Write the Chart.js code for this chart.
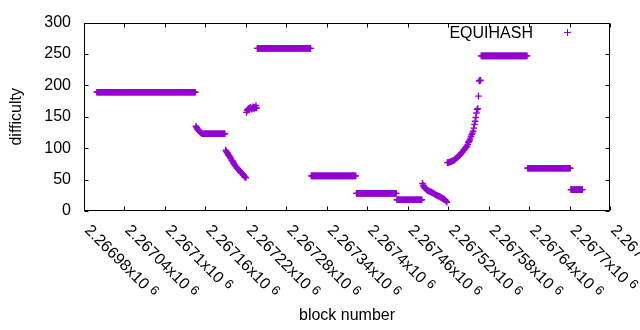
<!DOCTYPE html>
<html>
<head>
<meta charset="utf-8">
<script src="https://cdn.jsdelivr.net/npm/chart.js@4/dist/chart.umd.min.js"></script>
<style>
html,body{margin:0;padding:0;background:#fff;}
canvas{display:block;}
</style>
</head>
<body>
<canvas id="c" width="640" height="330"></canvas>
<script>
// ---- data ----
const seriesName = 'EQUIHASH';
const firstBlock = 2266999; // block number of the first value below
const difficulty = [
// 2266999 - 2267145
189,189,189,189,189,189,189,189,189,189,
189,189,189,189,189,189,189,189,189,189,
189,189,189,189,189,189,189,189,189,189,
189,189,189,189,189,189,189,189,189,189,
189,189,189,189,189,189,189,189,189,189,
189,189,189,189,189,189,189,189,189,189,
189,189,189,189,189,189,189,189,189,189,
189,189,189,189,189,189,189,189,189,189,
189,189,189,189,189,189,189,189,189,189,
189,189,189,189,189,189,189,189,189,189,
189,189,189,189,189,189,189,189,189,189,
189,189,189,189,189,189,189,189,189,189,
189,189,189,189,189,189,189,189,189,189,
189,189,189,189,189,189,189,189,189,189,
189,189,189,189,189,189,189,
// 2267146 - 2267189
135,133,131,129,128,127,126,125,124,
123,123,123,123,123,123,123,123,123,123,
123,123,123,123,123,123,123,123,123,123,
123,123,123,123,123,123,123,123,123,123,
123,123,123,123,123,
// 2267190 - 2267220
97,95,93,92,90,88,87,85,83,81,
80,78,76,74,73,71,70,68,67,66,
65,64,62,61,60,59,58,57,55,54,
53,
// 2267221 - 2267236
157,160,162,163,161,164,165,163,162,164,166,163,165,164,168,164,
// 2267237 - 2267316
259,259,259,259,259,259,259,259,259,259,
259,259,259,259,259,259,259,259,259,259,
259,259,259,259,259,259,259,259,259,259,
259,259,259,259,259,259,259,259,259,259,
259,259,259,259,259,259,259,259,259,259,
259,259,259,259,259,259,259,259,259,259,
259,259,259,259,259,259,259,259,259,259,
259,259,259,259,259,259,259,259,259,259,
// 2267317 - 2267383
56,56,56,56,56,56,56,56,56,56,
56,56,56,56,56,56,56,56,56,56,
56,56,56,56,56,56,56,56,56,56,
56,56,56,56,56,56,56,56,56,56,
56,56,56,56,56,56,56,56,56,56,
56,56,56,56,56,56,56,56,56,56,
56,56,56,56,56,56,56,
// 2267384 - 2267443
28,28,28,28,28,28,28,28,28,28,
28,28,28,28,28,28,28,28,28,28,
28,28,28,28,28,28,28,28,28,28,
28,28,28,28,28,28,28,28,28,28,
28,28,28,28,28,28,28,28,28,28,
28,28,28,28,28,28,28,28,28,28,
// 2267444 - 2267481
18,18,18,18,18,18,18,18,18,18,
18,18,18,18,18,18,18,18,18,18,
18,18,18,18,18,18,18,18,18,18,
18,18,18,18,18,18,18,18,
// 2267482 - 2267518
44,41,39,37,36,35,34,33,32.5,32,
31.5,31,30.5,30,29.5,29,28,27.5,27,26,
25.5,25,24.5,24,23.5,23,22.5,22,21,20.5,
20,19.5,19,18,17,15.5,14,
// 2267519 - 2267568
77,77,77.5,78,78,78.5,79,79.5,80,80.5,
81,82,83,84,85,86,87,88,89,90,
91,93,94,95,97,98,99,101,102,103,
106,109,111,113,116,119,122,124,127,132,
138,143,149,156,162,163,183,207,208,208,
// 2267569 - 2267637
247,247,247,247,247,247,247,247,247,247,
247,247,247,247,247,247,247,247,247,247,
247,247,247,247,247,247,247,247,247,247,
247,247,247,247,247,247,247,247,247,247,
247,247,247,247,247,247,247,247,247,247,
247,247,247,247,247,247,247,247,247,247,
247,247,247,247,247,247,247,247,247,
// 2267638 - 2267701
68,68,68,68,68,68,68,68,68,68,
68,68,68,68,68,68,68,68,68,68,
68,68,68,68,68,68,68,68,68,68,
68,68,68,68,68,68,68,68,68,68,
68,68,68,68,68,68,68,68,68,68,
68,68,68,68,68,68,68,68,68,68,
68,68,68,68,
// 2267702 - 2267719
34,34,34,34,34,34,34,34,34,34,
34,34,34,34,34,34,34,34
];
const xTickValues = [2266980,2267040,2267100,2267160,2267220,2267280,2267340,2267400,2267460,2267520,2267580,2267640,2267700,2267760];
const xTickMantissa = ['2.26698','2.26704','2.2671','2.26716','2.26722','2.26728','2.26734','2.2674','2.26746','2.26752','2.26758','2.26764','2.2677','2.26776'];
const xTickExponent = ['6','6','6','6','6','6','6','6','6','6','6','6','6','6'];
const yTickValues = [0,50,100,150,200,250,300];

// ---- chart ----
const FONT = 'Liberation Sans';
const FS = 16;
const COLOR = '#9400d3';
const points = difficulty.map((v, i) => ({x: firstBlock + i, y: v}));

const gnuplotDecor = {
  id: 'gnuplotDecor',
  afterDraw(chart) {
    const ctx = chart.ctx;
    const a = chart.chartArea;
    const xs = chart.scales.x, ys = chart.scales.y;
    const L = Math.round(a.left) + 0.5, R = Math.round(a.right) - 0.5;
    const T = Math.round(a.top) + 0.5, B = Math.round(a.bottom) - 0.5;
    ctx.save();
    ctx.strokeStyle = '#000';
    ctx.lineWidth = 1;
    ctx.beginPath();
    ctx.rect(L, T, R - L, B - T);
    // x ticks (bottom and mirrored top)
    xTickValues.forEach(v => {
      const p = Math.round(xs.getPixelForValue(v)) + 0.5;
      ctx.moveTo(p, B); ctx.lineTo(p, B - 4);
      ctx.moveTo(p, T); ctx.lineTo(p, T + 4);
    });
    // y ticks (left and mirrored right)
    yTickValues.forEach(v => {
      const p = Math.round(ys.getPixelForValue(v)) + 0.5;
      ctx.moveTo(L, p); ctx.lineTo(L + 4, p);
      ctx.moveTo(R, p); ctx.lineTo(R - 4, p);
    });
    ctx.stroke();

    // rotated x tick labels
    ctx.fillStyle = '#000';
    xTickValues.forEach((v, i) => {
      const p = xs.getPixelForValue(v);
      ctx.save();
      ctx.translate(p + 3, a.bottom + 17);
      ctx.rotate(Math.PI / 4);
      ctx.textAlign = 'left';
      ctx.textBaseline = 'middle';
      ctx.font = FS + 'px "' + FONT + '"';
      ctx.fillText(xTickMantissa[i] + 'x10', 0, 0);
      const w = ctx.measureText(xTickMantissa[i] + 'x10').width;
      ctx.font = '13px "' + FONT + '"';
      ctx.fillText(xTickExponent[i], w + 4.5, -3);
      ctx.restore();
    });

    // legend
    ctx.font = FS + 'px "' + FONT + '"';
    ctx.textAlign = 'right';
    ctx.textBaseline = 'alphabetic';
    ctx.fillText(seriesName, 533, 38);
    ctx.strokeStyle = COLOR;
    ctx.beginPath();
    ctx.moveTo(564, 32.5); ctx.lineTo(571, 32.5);
    ctx.moveTo(567.5, 29); ctx.lineTo(567.5, 36);
    ctx.stroke();
    ctx.restore();
  }
};

new Chart(document.getElementById('c'), {
  type: 'scatter',
  data: {
    datasets: [{
      label: seriesName,
      data: points,
      showLine: false,
      pointStyle: 'cross',
      pointRadius: 3.3,
      pointHoverRadius: 3.3,
      pointBorderWidth: 1.4,
      borderColor: COLOR,
      backgroundColor: COLOR
    }]
  },
  options: {
    responsive: false,
    animation: false,
    devicePixelRatio: 1,
    layout: {padding: {top: 19, right: 30, left: 0, bottom: 0}},
    plugins: {legend: {display: false}, tooltip: {enabled: false}},
    events: [],
    scales: {
      x: {
        type: 'linear',
        min: 2266980,
        max: 2267760,
        grid: {display: false, drawTicks: false},
        border: {display: false},
        ticks: {display: false, stepSize: 60},
        title: {display: true, text: 'block number', color: '#000', font: {family: FONT, size: FS}, padding: {top: 0, bottom: 5}},
        afterFit(s) { s.height = 119; }
      },
      y: {
        min: 0,
        max: 300,
        grid: {display: false, drawTicks: false},
        border: {display: false},
        ticks: {stepSize: 50, padding: 13, color: '#000', font: {family: FONT, size: FS}},
        title: {display: true, text: 'difficulty', color: '#000', font: {family: FONT, size: FS}, padding: {top: 7, bottom: 0}},
        afterFit(s) { s.width = 84; }
      }
    }
  },
  plugins: [gnuplotDecor]
});
</script>
</body>
</html>
